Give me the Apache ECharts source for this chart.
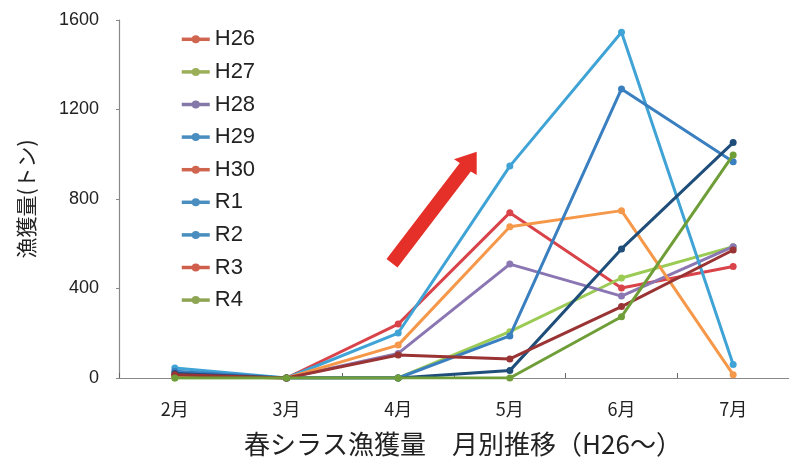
<!DOCTYPE html>
<html>
<head>
<meta charset="utf-8">
<script src="https://cdn.jsdelivr.net/npm/echarts@6/dist/echarts.min.js"></script>
<style>
  html, body { margin: 0; padding: 0; background: #fff; }
  #chart { width: 789px; height: 461px; }
</style>
</head>
<body>
<div id="chart"></div>
<script>
// Monthly spring shirasu catch (tonnes), Feb–Jul, by fishing year
const months = ['2月', '3月', '4月', '5月', '6月', '7月'];
const yTicks = [0, 400, 800, 1200, 1600];

const H26 = [10, 0, 241, 739, 402, 498];
const H27 = [0, 0, 0, 207, 447, 587];
const H28 = [10, 0, 110, 509, 366, 587];
const H29 = [45, 0, 201, 947, 1545, 60];
const H30 = [10, 0, 147, 676, 748, 15];
const R1 = [30, 0, 0, 188, 1292, 967];
const R2 = [20, 0, 0, 33, 577, 1052];
const R3 = [15, 0, 103, 85, 319, 572];
const R4 = [0, 0, 0, 0, 274, 997];

const seriesNames = ['H26', 'H27', 'H28', 'H29', 'H30', 'R1', 'R2', 'R3', 'R4'];
const seriesData = [H26, H27, H28, H29, H30, R1, R2, R3, R4];
// line colours
const lineColors = ['#d9434a', '#9ccb55', '#8a76b2', '#3fa3d5', '#f5984a', '#3a7fc0', '#1f4e7a', '#9a3434', '#6f9e38'];
// legend swatch colours
const legendColors = ['#d0654f', '#9aaf58', '#8478a8', '#4a8dbf', '#d0654f', '#4a8dbf', '#4a8dbf', '#cf5f4c', '#8ea653'];

const chart = echarts.init(document.getElementById('chart'), null, { renderer: 'canvas' });

const series = seriesNames.map((name, i) => ({
  name: name,
  type: 'line',
  data: seriesData[i],
  symbol: 'circle',
  symbolSize: 7,
  lineStyle: { width: 3, color: lineColors[i] },
  itemStyle: { color: lineColors[i] },
  z: 2 + i
}));

const latin = 'Liberation Sans, Arial, "Noto Sans CJK JP", sans-serif';
const cjk = '"Noto Sans CJK JP", "Liberation Sans", sans-serif';

chart.setOption({
  animation: false,
  backgroundColor: '#ffffff',
  title: {
    text: '春シラス漁獲量　月別推移（H26～）',
    left: 458,
    textAlign: 'center',
    top: 426,
    textStyle: { fontFamily: cjk, fontSize: 26, fontWeight: 'normal', color: '#222' }
  },
  legend: {
    orient: 'vertical',
    left: 175,
    top: 21,
    itemWidth: 28,
    itemHeight: 10,
    itemGap: 6,
    textStyle: { fontFamily: latin, fontSize: 22, color: '#222', lineHeight: 26.6 },
    data: seriesNames.map((n, i) => ({
      name: n,
      itemStyle: { color: legendColors[i] },
      lineStyle: { color: legendColors[i], width: 3.5 }
    }))
  },
  grid: { left: 119, top: 20, width: 670, height: 358, containLabel: false },
  xAxis: {
    type: 'category',
    data: months,
    boundaryGap: true,
    axisLine: { lineStyle: { color: '#888', width: 1.2 } },
    axisTick: { show: true, inside: true, length: 5, lineStyle: { color: '#666' } },
    axisLabel: { fontFamily: cjk, fontSize: 18, color: '#222', margin: 22 },
    splitLine: { show: false }
  },
  yAxis: {
    type: 'value',
    min: 0,
    max: 1600,
    interval: 400,
    name: '漁獲量(トン)',
    nameLocation: 'middle',
    nameGap: 82,
    nameRotate: 90,
    nameTextStyle: { fontFamily: cjk, fontSize: 21, color: '#222' },
    axisLine: { show: true, lineStyle: { color: '#888', width: 1.2 } },
    axisTick: { show: true, length: 3, lineStyle: { color: '#888' } },
    axisLabel: {
      fontFamily: latin, fontSize: 18, color: '#222', margin: 20,
      formatter: v => (yTicks.indexOf(v) >= 0 ? String(v) : '')
    },
    splitLine: { show: false }
  },
  graphic: [{
    // upward trend arrow
    type: 'polygon',
    z: 100,
    shape: {
      points: [[386.5, 259.1], [459.8, 163.0], [454, 159.3], [476.7, 151.7], [476.7, 175], [470.8, 171.4], [397.5, 267.5]]
    },
    style: { fill: '#e5302a' }
  }],
  series: series
});
</script>
</body>
</html>
